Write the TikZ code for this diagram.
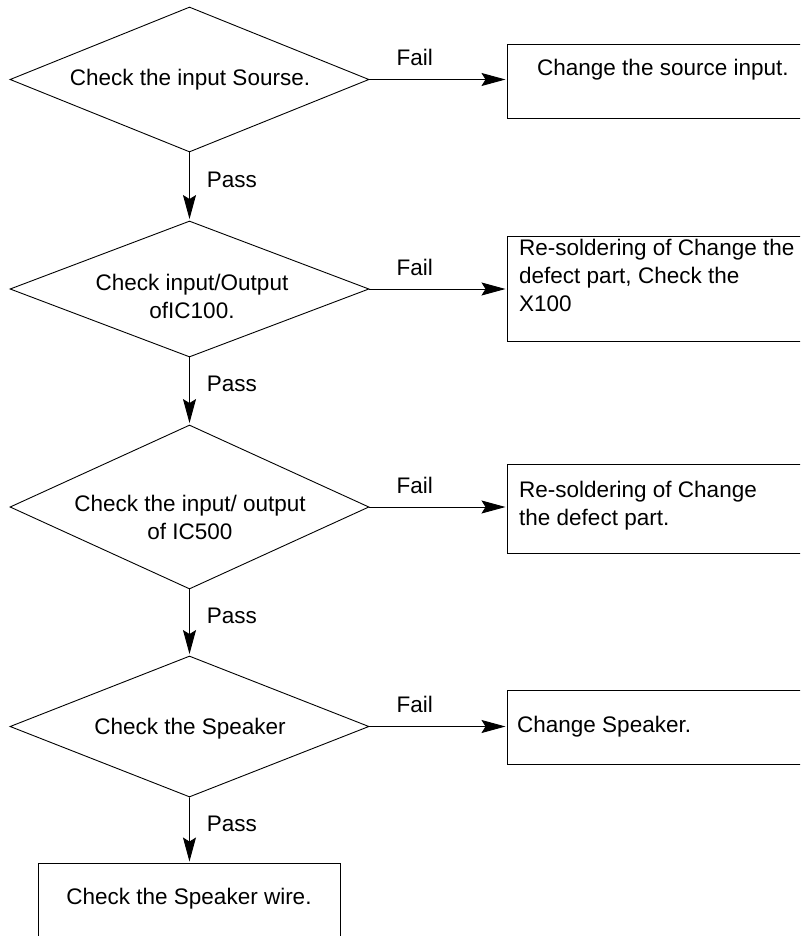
\documentclass[tikz,border=0pt]{standalone}
\usepackage{fontspec}
\setmainfont{Liberation Sans}
\usetikzlibrary{shapes.geometric,arrows.meta}
\begin{document}
\begin{tikzpicture}[x=1pt,y=-1pt,
  dia/.style={draw, diamond, line width=0.9pt, inner sep=0pt, minimum width=359pt},
  box/.style={draw, rectangle, line width=0.9pt, inner sep=0pt, anchor=north west},
  txt/.style={inner sep=0pt, font=\fontsize{22.5}{28}\selectfont},
  lbl/.style={txt},
  arr/.style={line width=0.9pt, shorten >=1.5pt, -{Stealth[length=24pt,width=13pt,inset=4pt]}}]
\useasboundingbox (0,0) rectangle (800,936);
\clip (0,0) rectangle (800,936);

% decisions
\node[dia, minimum height=145pt] (d1) at (189.5,79.5) {};
\node[dia, minimum height=136pt] (d2) at (189.5,289) {};
\node[dia, minimum height=164pt] (d3) at (189.5,507) {};
\node[dia, minimum height=141pt] (d4) at (189.5,726.5) {};

\node[txt] (d1t) at (190,80) {Check the input Sourse.};
\node[txt, align=center] (d2t) at (192,296) {Check input/Output\\ofIC100.};
\node[txt, align=center] (d3t) at (190,517) {Check the input/ output\\of IC500};
\node[txt] (d4t) at (190,729) {Check the Speaker};

% boxes
\node[box, minimum width=320pt, minimum height=74pt] (b1) at (507,44) {};
\node[box, minimum width=320pt, minimum height=105pt] (b2) at (507,236) {};
\node[box, minimum width=320pt, minimum height=89pt] (b3) at (507,464) {};
\node[box, minimum width=320pt, minimum height=74pt] (b4) at (507,690) {};
\node[box, minimum width=302pt, minimum height=100pt] (b5) at (38,863) {};

\node[txt, anchor=west] (b1t) at (537,70) {Change the source input.};
\node[txt, anchor=west, align=left] (b2t) at (519,275) {Re-soldering of Change the\\defect part, Check the\\X100};
\node[txt, anchor=west, align=left] (b3t) at (519,506) {Re-soldering of Change\\the defect part.};
\node[txt, anchor=west] (b4t) at (517,727) {Change Speaker.};
\node[txt] (b5t) at (189,899) {Check the Speaker wire.};

% fail connectors
\draw[arr] (d1.east) -- node[lbl, pos=0.33, yshift=22pt] (f1) {Fail} (d1.east -| b1.west);
\draw[arr] (d2.east) -- node[lbl, pos=0.33, yshift=22pt] (f2) {Fail} (d2.east -| b2.west);
\draw[arr] (d3.east) -- node[lbl, pos=0.33, yshift=22pt] (f3) {Fail} (d3.east -| b3.west);
\draw[arr] (d4.east) -- node[lbl, pos=0.33, yshift=22pt] (f4) {Fail} (d4.east -| b4.west);

% pass connectors
\draw[arr] (d1.south) -- node[lbl, pos=0.4, anchor=west, xshift=17pt] (p1) {Pass} (d2.north);
\draw[arr] (d2.south) -- node[lbl, pos=0.4, anchor=west, xshift=17pt] (p2) {Pass} (d3.north);
\draw[arr] (d3.south) -- node[lbl, pos=0.4, anchor=west, xshift=17pt] (p3) {Pass} (d4.north);
\draw[arr] (d4.south) -- node[lbl, pos=0.4, anchor=west, xshift=17pt] (p4) {Pass} (b5.north);
\end{tikzpicture}
\end{document}
